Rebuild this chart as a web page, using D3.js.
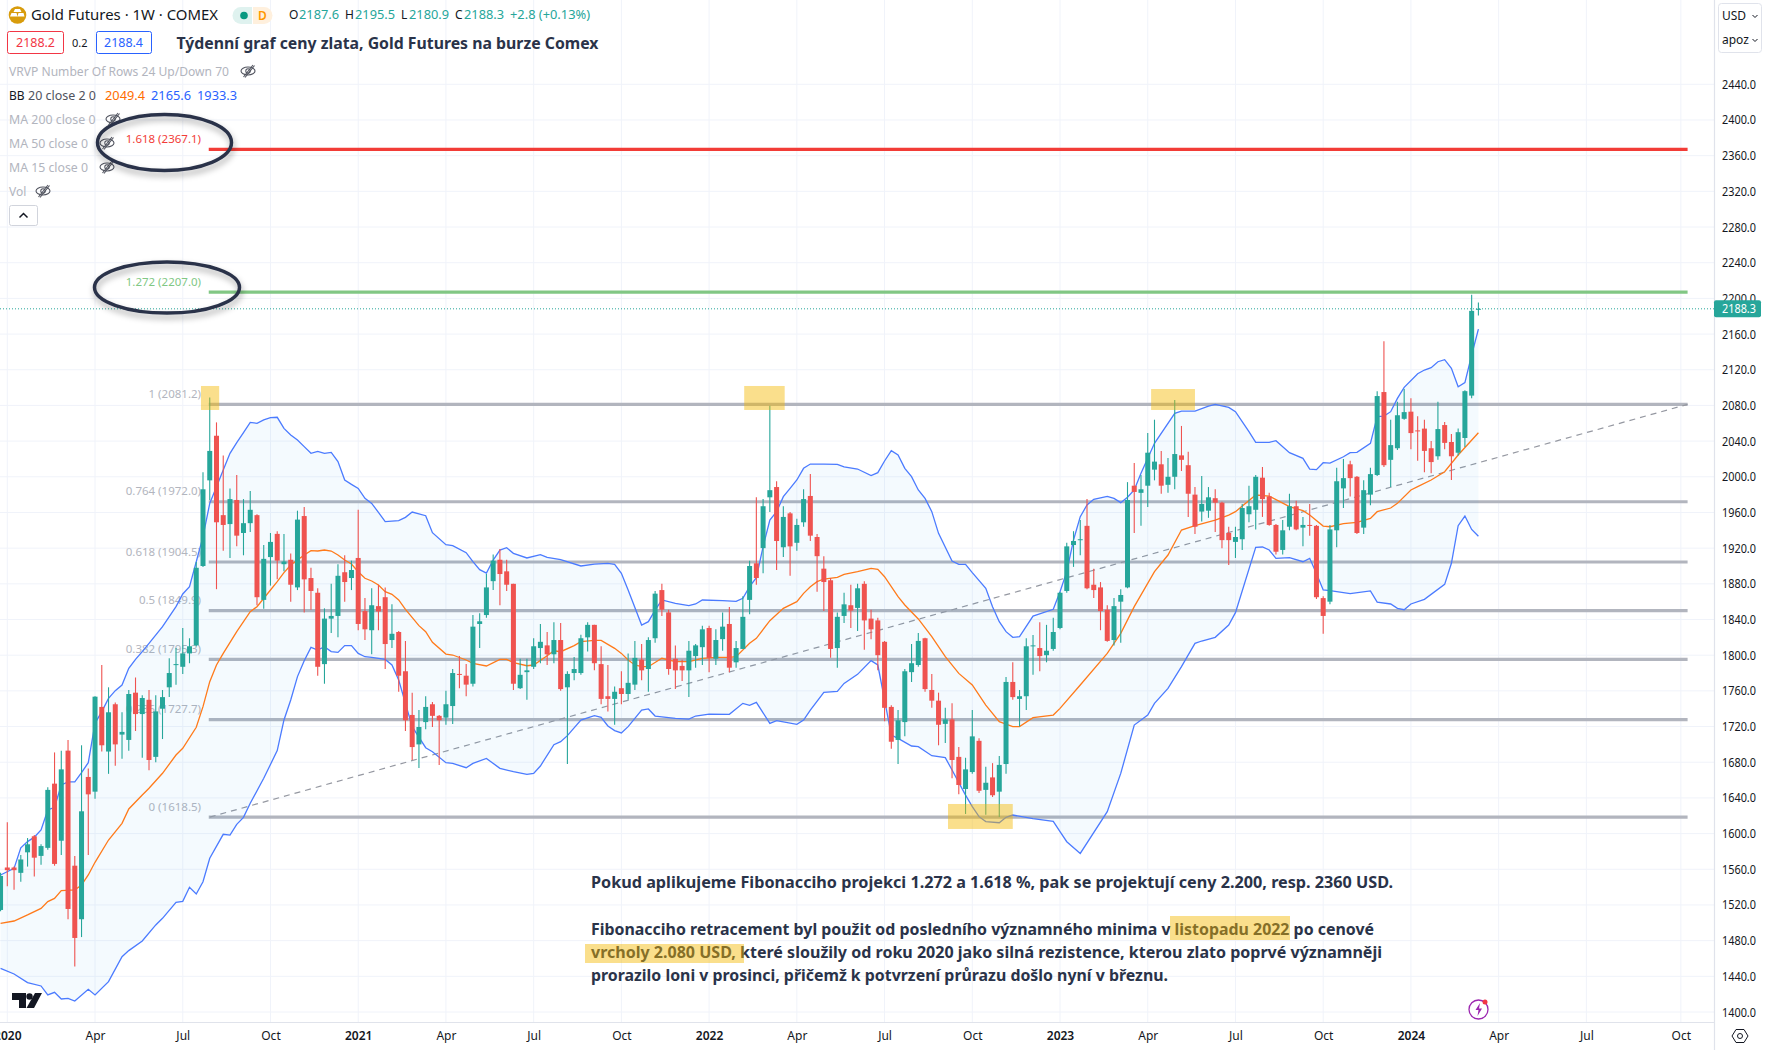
<!DOCTYPE html>
<html>
<head>
<meta charset="utf-8">
<title>Gold Futures 1W</title>
<script src="https://cdnjs.cloudflare.com/ajax/libs/d3/7.8.5/d3.min.js"></script>
<style>
    body { margin: 0; background: #fff; }
    svg { display: block; font-family: "Noto Sans", sans-serif; }
</style>
</head>
<body>
<script>
const dimensions = { width: 1767, height: 1050 }

// weekly candles, first one is the week of 30 Dec 2019 (week -1), week 0 = 6 Jan 2020
const opens = [1514.4,1562,1562,1556,1579,1597,1575,1584,1656,1592,1693,1564,1504,1663.5,1647,1742,1692,1745,1711,1705,1758,1734,1750,1686,1740,1764,1789,1787,1802,1811,1900,1996,2046,1957,1947,1974,1937,1948,1957,1862,1910,1936,1902,1907,1876,1956,1886.5,1870,1790,1841,1844,1893,1886.5,
    1909,1849.5,1828,1855,1865,1817,1826,1782,1733,1700,1725,1745,1732,1730,1743,1779,1777,1768,1835,1845,1883,1907,1894,1880,1763,1781,1787,1808,1811,1801,1817,1764,1780,1780,1820,1834,1790,1754,1751,1763,1756.5,1767,1795,1784.5,1819,1873,1848,1796,1788,1783,1799,1809,
    1830.5,1796,1818,1835,1792,1807,1862,1903,1920,1977,1988.5,1921,1959,1926,1949,1978.5,1932.5,1897,1884,1808,1844,1856,1853,1880,1841,1839,1815,1742,1705,1725,1781,1789,1819,1761,1749,1723,1728,1686,1650,1669,1704,1649,1663,1647,1678,1770,1751,1754,1810,1808,1800,1807,
    1830.5,1872,1923.5,1929,1945,1879,1876,1851,1817,1860,1876,1990,1982,1990,2008,2014,1991,2000,2024,2013,1980,1961,1962,
    1976,1971,1937,1927,1930,1958,1963,1999,1978,1946,1918,1944,1967,1943,1946,1945,1864,1860,1940,1987,2014,2000,1943,1980,2002,2095,2019,2032,2065,2073,2052,2054,2032,2023,2058,2039,2027,2043.5,2091,2187.6]
const highs = [1556,1612.7,1563,1576,1595,1598.5,1588,1652,1691,1693,1705,1575,1699,1673,1754,1789,1764,1747,1736,1761,1775,1755,1761,1755,1761,1796.5,1808,1830.5,1819,1904.5,2005,2089,2061,2024,1987,2002,1975,1984,1958,1923.5,1937,1939,1936,1914,1962,1966,1898,1875,1852.5,1880,1902,1912,1906,
    1963,1864,1875,1879,1876,1857,1827,1816,1758,1738.5,1754,1747.5,1733,1760,1784.5,1799,1790,1845,1847,1891,1913,1919,1907,1880,1796,1796,1819,1835,1826,1837,1836,1782,1798,1823,1837,1834,1810,1789,1765,1782,1802,1816,1812.5,1820,1872,1880,1851,1811,1795,1816,1812.5,1833,
    1833,1829,1848,1854,1816,1866,1906,1977,1975,2079.5,1995,1967,1960.5,1953,1986,2003,1936,1911,1886.5,1848,1870,1879,1880,1883,1851,1842,1816,1744,1738.5,1784.5,1812.5,1825,1819.5,1779,1758,1741,1746,1697,1685,1738.5,1707,1675,1679,1687,1775.5,1792,1761,1819,1822.5,1837,1834,1842,
    1871,1926,1939,1951.5,1975,1897,1882,1856,1864,1874,1994,2015.5,2002,2049,2064,2029,2021,2086,2057,2028,1988.5,2001,1988.5,
    1986,1972,1944,1944,1969.5,1990,2002,2011,1982,1947,1951.5,1981,1973,1955,1969.5,1946,1866,1946,2010,2020,2018,2001,1996,2010,2096,2152,2064,2084,2098.5,2088,2068,2064,2040,2084,2061.5,2048,2054,2097,2204,2195.5]
const lows = [1513,1541,1537,1546,1563,1552,1565,1582,1564,1576,1504,1451,1484,1576,1639,1692,1667,1676,1684,1693,1715,1685,1671,1680,1706,1753,1767,1779,1791,1810,1899,1974,1874,1917,1909,1922,1912,1938,1856,1852,1878,1885,1894,1860,1873,1848,1851,1777,1768,1825,1820,1860,1873,
    1828,1817,1801,1828,1784.5,1808,1759,1715,1682.5,1673.5,1717,1719.5,1677,1722,1723,1763,1754,1765,1808,1842,1873,1856,1872,1761,1762,1750,1784.5,1791,1789,1791,1760,1678,1772,1778,1804,1783,1745,1737,1722,1745,1750,1761,1772,1759,1814,1844,1778,1762,1771,1753,1786,1789,
    1781,1789,1805,1781,1786,1807,1846,1879,1892,1960.5,1895.5,1910,1889,1917,1944,1928,1871,1849.5,1797,1786,1836,1830.5,1827,1806,1818,1783,1726,1695,1678,1709,1770,1787,1759,1741,1699,1701.5,1662,1644,1622,1667,1645.5,1621,1641,1618.5,1667,1750,1720,1738.5,1778,1782,1792,1805,
    1829,1870,1899,1912,1874,1864,1828,1815,1811,1814,1875,1937,1945,1966,1996,1981,1982,1986,2006.5,1955,1936,1950,1954,
    1938,1920,1901,1909,1918,1949,1941,1955,1945,1913,1913,1940,1940,1922,1934,1863,1824,1857,1921,1965,1978,1936,1936,1968,2001,2011,1988.5,2030,2064,2031,2018,2005,2004,2019,2031,1996.5,2024,2033.5,2088,2180.9]
const closes = [1552.5,1559,1559,1571,1588,1573,1586,1649,1566,1672,1515.5,1483,1625,1644,1753.5,1699,1736,1700,1714,1756.5,1734,1752,1682.5,1737,1753,1780,1790,1802,1810,1898,1986,2029,1949,1946,1975,1934,1948,1963,1865,1908,1927,1906,1905,1879,1952,1885,1872,1787,1841,1844,1889,1882,1895.5,
    1835,1829,1856,1849,1812.5,1824,1777,1727,1697,1719.5,1742,1732,1727,1745,1780,1778,1767,1832,1838,1876,1906,1891,1879,1768,1778,1783,1810,1815,1801,1817,1762,1779,1784.5,1819,1834,1791,1751,1751,1759,1756.5,1769,1797,1783,1817,1869,1851,1784.5,1783,1783,1805,1811,1829,
    1797,1817,1832,1786,1808,1843,1900,1886.5,1967,1985,1928,1955,1922,1946,1975,1934,1911,1882,1807,1843,1857,1850,1875,1839,1829,1800,1741,1703,1727,1782,1791,1816,1762,1749,1722,1728,1682.5,1654.5,1672,1709,1648,1657,1643,1677,1770,1753,1754,1810,1811,1799,1805,1826,
    1870,1922,1928,1930,1875,1873,1849.5,1816,1855,1867.5,1974,1983,1986,2027,2017,1990,2000,2025.5,2019,1981,1944,1969.5,1977,
    1971,1929,1929,1932.5,1965,1967,2000,1975,1946,1916,1940,1967,1941,1946,1945,1865,1844,1941,1995,1998.5,1998.5,1937,1985,2003,2090.5,2013,2035.5,2069,2072.5,2049,2051,2029,2016.5,2053.5,2038,2023,2050,2096,2186,2188.3]

// bollinger bands as [week, price], read at the points where the lines bend
const bbUpper = [[-1,1553.6],[1,1561],[2,1584],[3,1591],[4,1596],[5,1604],[6,1626.5],[7,1629.5],[8,1654.5],[9,1658],[10,1658],[11,1668.3],[12,1679.5],[13,1723.6],[14,1736.7],[15,1751.6],[16,1760.2],[17,1766.6],[18,1785.3],[19,1795.3],[20,1804],[21,1813.3],[23,1832],[25,1854.4],[26,1868.6],[27,1876.8],[28,1904.8],[29,1932.9],[30,1970.2],[31,1988.9],[32,2007.6],[33,2026.3],[34,2038.3],[35,2049.5],[36,2061],[37,2059.9],[38,2063.7],[39,2066.3],[40,2066.7],[41,2054.3],[42,2046.9],[43,2041.2],[44,2033.8],[45,2026.3],[46,2028.5],[47,2026.3],[48,2027.4],[49,2017],[50,1996.4],[51,1991.5],[52,1987],[53,1975.8],[54,1970.2],[55,1960.1],[56,1949.7],[58,1950.8],[59,1954.5],[60,1960.5],[62,1956.4],[63,1937.3],[65,1923.9],[66,1922.8],[68,1914.9],[69,1904.8],[70,1895.9],[71,1892.1],[72,1906.7],[73,1917.9],[74,1920.5],[75,1914.2],[77,1909],[79,1912.7],[80,1909.7],[82,1907.1],[85,1900],[87,1902.2],[89,1903],[90,1901.8],[91,1891.8],[92,1873.1],[94,1833.8],[95,1837.6],[96,1850.6],[97,1861.9],[99,1858.1],[101,1855.5],[102,1857.4],[103,1861.9],[106,1861.1],[108,1860.4],[109,1863.8],[110,1876.8],[111,1886.9],[112,1921.7],[113,1951.5],[114,1960.9],[115,1977.7],[116,1987.1],[117,1996.4],[118,2009.5],[119,2014.3],[121,2014.3],[123,2014],[124,2011],[126,2008.7],[128,2001.3],[129,2004.6],[130,2017.7],[131,2029.3],[132,2024.4],[133,2009.5],[134,2000.1],[135,1985.2],[136,1975.8],[137,1960.9],[138,1936.6],[140,1905.6],[141,1901.8],[142,1901.8],[143,1892.5],[145,1874.9],[146,1854.4],[147,1837.6],[148,1826.4],[149,1820],[150,1820.8],[152,1843.9],[155,1851.4],[156,1871.2],[157,1893.6],[158,1929.1],[159,1955.3],[160,1968.4],[161,1974.7],[163,1978.1],[164,1975.8],[165,1971],[166,1977],[167,1985.2],[168,2003.9],[170,2037.5],[173,2071.1],[174,2073.7],[176,2073.7],[178,2079.3],[179,2081.2],[181,2077.8],[182,2073],[184,2050.6],[185,2038.6],[187,2038.6],[188,2040.5],[190,2027],[192,2020.7],[193,2008.7],[194,2008],[195,2015.8],[196,2015.4],[198,2022.5],[199,2027],[200,2027.4],[202,2037.5],[203,2067.4],[204,2068.1],[205,2073],[206,2087.9],[207,2100.3],[209,2115.6],[210,2119.7],[211,2122.3],[212,2129],[213,2131.3],[214,2121.6],[215,2101],[216,2105.5],[217,2136.5],[218,2165.6]]
const bbLower = [[-1,1449],[1,1442.6],[3,1432.9],[5,1429.2],[6,1419.1],[7,1422.1],[8,1414.6],[9,1415.3],[10,1412.3],[12,1425.4],[13,1419.1],[15,1434],[17,1462],[18,1468.8],[20,1479.6],[22,1497.6],[23,1505],[25,1523],[26,1524.1],[27,1539.8],[28,1532.3],[29,1546],[30,1572.3],[32,1599.2],[33,1598.4],[34,1610.4],[35,1618.2],[36,1634],[38,1662],[40,1693],[41,1727.4],[42,1749.8],[43,1776],[44,1793.8],[45,1808.8],[46,1805.8],[47,1809.5],[48,1804],[49,1803.2],[50,1810.7],[51,1810.7],[52,1802],[53,1798.3],[54,1797.6],[56,1795.3],[57,1789],[58,1772.2],[59,1746],[60,1719.9],[62,1696.3],[63,1691.8],[65,1679.5],[66,1678.7],[68,1673.9],[69,1678.7],[71,1684.3],[73,1673.1],[75,1669.4],[77,1666.4],[78,1667.5],[79,1675.8],[81,1699.7],[82,1703],[83,1709.8],[85,1727.3],[87,1732.2],[88,1730.3],[89,1720.6],[90,1715.4],[91,1712.8],[92,1719.9],[94,1738.5],[95,1739.7],[96,1731.8],[99,1729.2],[101,1728.4],[102,1731.8],[104,1734],[107,1733.7],[109,1746],[110,1743.8],[111,1747.1],[113,1723.6],[114,1726.6],[117,1722.5],[118,1727.3],[119,1738.5],[121,1758.3],[123,1759.5],[124,1768.4],[126,1778.5],[128,1793.9],[129,1789],[130,1749.8],[131,1710.5],[132,1706.8],[134,1698.2],[135,1697.4],[137,1687.3],[139,1685.1],[140,1671.3],[142,1643.2],[143,1630.2],[144,1619],[145,1613.4],[147,1612.2],[148,1618.2],[149,1620.8],[152,1616.7],[155,1613.7],[156,1602.1],[157,1590.9],[159,1577.8],[163,1624.6],[165,1667.5],[167,1721.7],[169,1732.9],[170,1746],[172,1762.8],[174,1787.1],[176,1813.3],[177,1815.9],[179,1820],[181,1833.8],[182,1847.7],[185,1920.9],[186,1921.3],[187,1917.9],[188,1908.6],[190,1909.3],[192,1904.8],[193,1908.6],[194,1891.7],[195,1873.1],[196,1872.3],[199,1869],[202,1872],[203,1859.6],[205,1857.4],[206,1852.5],[207,1851],[208,1857.4],[210,1862.6],[213,1879.4],[214,1903],[215,1945.2],[216,1956],[217,1941],[218,1933.3]]
const bbBasis = [[-1,1499.4],[1,1502],[3,1508.8],[5,1516.2],[6,1523.7],[7,1527.4],[8,1536],[10,1536.8],[11,1542.4],[12,1553.6],[13,1567.8],[15,1592.8],[17,1611.5],[18,1627.6],[20,1643.3],[21,1650.8],[23,1667.6],[25,1688.1],[26,1695.6],[28,1719.2],[29,1742.3],[30,1770.3],[31,1789],[32,1802],[34,1826.4],[36,1848.8],[37,1854.4],[39,1873.1],[40,1882.4],[41,1892.5],[42,1901.1],[43,1906.7],[44,1912.3],[45,1917.2],[46,1916.8],[47,1917.9],[48,1916.8],[49,1912.3],[50,1906.7],[51,1902.2],[52,1893.6],[53,1886.2],[54,1883.2],[55,1878.7],[56,1871.2],[57,1868.2],[58,1861.9],[59,1851.4],[61,1833.1],[62,1826.4],[63,1814.4],[65,1801.3],[66,1800.2],[68,1794.6],[69,1790.9],[71,1787.9],[73,1795.3],[74,1795.3],[75,1791.6],[77,1788.2],[78,1789],[80,1799.4],[81,1805],[82,1803.9],[84,1810.7],[85,1815.1],[87,1816.6],[88,1816.6],[90,1807.7],[91,1802],[92,1794.6],[93,1789],[94,1787.1],[95,1787.1],[97,1796.5],[99,1792.7],[101,1792.7],[103,1796.5],[105,1797.6],[107,1797.6],[108,1798.3],[110,1813.3],[111,1818.9],[113,1838.7],[115,1852.5],[117,1860],[118,1869.3],[119,1876.8],[120,1882.4],[121,1885.4],[123,1887.3],[124,1890.6],[126,1893.6],[128,1897.4],[129,1896.2],[130,1888],[132,1865.6],[133,1856.3],[135,1840.6],[137,1820.8],[139,1798.3],[141,1779.6],[143,1766.6],[145,1744.1],[147,1725.5],[149,1719.9],[150,1719.9],[152,1730],[155,1732.9],[156,1740.4],[159,1766.6],[163,1802],[165,1824.5],[167,1854.4],[170,1893.6],[172,1912.3],[174,1940.3],[176,1945.2],[179,1951.5],[181,1957.1],[182,1960.9],[185,1979.6],[187,1978.4],[190,1966.5],[192,1962],[193,1957.1],[195,1944.8],[196,1944],[198,1947.4],[200,1948.9],[202,1953.4],[203,1960.9],[205,1965],[206,1970.2],[208,1985.2],[209,1988.9],[211,1996.4],[213,2005.7],[215,2024.4],[218,2049.4]]

// fibonacci tool
const fibRatios = ['0', '0.236', '0.382', '0.5', '0.618', '0.764', '1', '1.272', '1.618']
const fibPrices = [1618.5, 1727.7, 1795.3, 1849.9, 1904.5, 1972.0, 2081.2, 2207.0, 2367.1]
const fibStartWeek = 30
const fibEndWeek = 249

// axes
const priceTicks = d3.range(1400, 2441, 40)
const weekTicks = [0, 13, 26, 39, 52, 65, 78, 91, 104, 117, 130, 143, 156, 169, 182, 195, 208, 221, 234, 248]
const weekLabels = ['2020', 'Apr', 'Jul', 'Oct', '2021', 'Apr', 'Jul', 'Oct', '2022', 'Apr', 'Jul', 'Oct', '2023', 'Apr', 'Jul', 'Oct', '2024', 'Apr', 'Jul', 'Oct']
const lastPrice = 2188.3

// yellow highlights: [first week, last week, top price, bottom price]
const highlights = [[28.7, 31.4, 2101.8, 2074.9], [109.2, 115.2, 2101.8, 2074.9], [169.5, 176, 2098.4, 2074.9], [139.4, 149, 1633.2, 1605.2]]

const chartRight = 1714
const chartBottom = 1022

const x = d3.scaleLinear().domain([0, 218]).range([7.3, 1478.4])
const y = d3.scaleLinear().domain([2440, 1400]).range([84.3, 1012])

const green = '#26a69a'
const red = '#ef5350'
const yellow = '#f5b800'

const candles = opens.map(function (o, i) {
    return { week: i - 1, open: o, high: highs[i], low: lows[i], close: closes[i] }
})

const svg = d3.select('body').append('svg')
    .attr('width', dimensions.width)
    .attr('height', dimensions.height)

const defs = svg.append('defs')
const shadow = defs.append('filter').attr('id', 'shadow')
    .attr('x', '-20%').attr('y', '-30%').attr('width', '140%').attr('height', '170%')
shadow.append('feDropShadow')
    .attr('dx', 1).attr('dy', 4).attr('stdDeviation', 3)
    .attr('flood-color', '#000').attr('flood-opacity', 0.35)

svg.append('clipPath').attr('id', 'plot').append('rect')
    .attr('width', chartRight).attr('height', chartBottom)

// grid
const grid = svg.append('g')
grid.selectAll('.hgrid')
    .data(priceTicks)
    .enter()
    .append('line')
    .attr('x1', 0).attr('x2', chartRight)
    .attr('y1', d => y(d)).attr('y2', d => y(d))
    .attr('stroke', '#f0f3fa')
grid.selectAll('.vgrid')
    .data(weekTicks)
    .enter()
    .append('line')
    .attr('x1', d => x(d)).attr('x2', d => x(d))
    .attr('y1', 0).attr('y2', chartBottom)
    .attr('stroke', '#f0f3fa')

const plot = svg.append('g').attr('clip-path', 'url(#plot)')

// fib levels sit behind the candles
const fibColor = function (i) {
    if (i == 8) return '#f23c37'
    if (i == 7) return '#81c784'
    return '#b2b5be'
}

plot.selectAll('.fib')
    .data(fibPrices)
    .enter()
    .append('line')
    .attr('x1', x(fibStartWeek) - 1).attr('x2', x(fibEndWeek))
    .attr('y1', d => y(d)).attr('y2', d => y(d))
    .attr('stroke', (d, i) => fibColor(i))
    .attr('stroke-width', 3.2)

plot.selectAll('.fibLabel')
    .data(fibPrices)
    .enter()
    .append('text')
    .attr('x', 201)
    .attr('y', d => y(d) - 10.5)
    .attr('dy', '0.35em')
    .attr('text-anchor', 'end')
    .attr('font-size', 11.5)
    .attr('fill', (d, i) => fibColor(i))
    .text((d, i) => fibRatios[i] + ' (' + d.toFixed(1) + ')')

plot.append('line')
    .attr('x1', x(fibStartWeek)).attr('x2', x(fibEndWeek))
    .attr('y1', y(fibPrices[0])).attr('y2', y(fibPrices[6]))
    .attr('stroke', '#9598a1')
    .attr('stroke-width', 1.2)
    .attr('stroke-dasharray', '6,5')

// bollinger bands
const bandLine = d3.line().x(d => x(d[0])).y(d => y(d[1]))

plot.append('path')
    .attr('d', bandLine(bbUpper) + 'L' + bandLine(bbLower.slice().reverse()).slice(1) + 'Z')
    .attr('fill', '#2196f3')
    .attr('fill-opacity', 0.05)

plot.selectAll('.band')
    .data([bbUpper, bbLower, bbBasis])
    .enter()
    .append('path')
    .attr('d', d => bandLine(d))
    .attr('fill', 'none')
    .attr('stroke', (d, i) => i == 2 ? '#ff7a1a' : '#4b7bff')
    .attr('stroke-width', 1.3)

// candles
plot.selectAll('.wick')
    .data(candles)
    .enter()
    .append('line')
    .attr('x1', d => x(d.week)).attr('x2', d => x(d.week))
    .attr('y1', d => y(d.high)).attr('y2', d => y(d.low))
    .attr('stroke', d => d.close >= d.open ? green : red)
    .attr('stroke-width', 1.1)

plot.selectAll('.body')
    .data(candles)
    .enter()
    .append('rect')
    .attr('x', d => x(d.week) - 2.5)
    .attr('width', 5)
    .attr('y', d => y(Math.max(d.open, d.close)))
    .attr('height', d => Math.max(1, Math.abs(y(d.open) - y(d.close))))
    .attr('fill', d => d.close >= d.open ? green : red)

plot.append('line')
    .attr('x1', 0).attr('x2', chartRight)
    .attr('y1', y(lastPrice)).attr('y2', y(lastPrice))
    .attr('stroke', green)
    .attr('stroke-dasharray', '1,2')

// price axis
svg.append('line')
    .attr('x1', chartRight + 0.5).attr('x2', chartRight + 0.5)
    .attr('y1', 0).attr('y2', dimensions.height)
    .attr('stroke', '#e0e3eb').attr('stroke-width', 1.2)

const priceAxis = svg.append('g')
    .attr('transform', 'translate(' + chartRight + ',0)')
    .call(d3.axisRight(y).tickValues(priceTicks).tickFormat(d3.format('.1f')).tickSize(0).tickPadding(8))
priceAxis.select('.domain').remove()
priceAxis.selectAll('text')
    .attr('font-family', '"Noto Sans", sans-serif')
    .attr('font-size', 12.5)
    .attr('textLength', 34)
    .attr('lengthAdjust', 'spacingAndGlyphs')
    .attr('fill', '#131722')

svg.append('rect')
    .attr('x', chartRight).attr('y', y(lastPrice) - 8.6)
    .attr('width', 47).attr('height', 17)
    .attr('rx', 2)
    .attr('fill', green)
svg.append('text')
    .attr('x', 1722).attr('y', y(lastPrice))
    .attr('dy', '0.35em')
    .attr('font-size', 12.5)
    .attr('textLength', 34)
    .attr('lengthAdjust', 'spacingAndGlyphs')
    .attr('fill', '#fff')
    .text(lastPrice.toFixed(1))

// time axis
svg.append('line')
    .attr('x1', 0).attr('x2', chartRight)
    .attr('y1', chartBottom + 0.5).attr('y2', chartBottom + 0.5)
    .attr('stroke', '#e0e3eb').attr('stroke-width', 1.2)

const timeAxis = svg.append('g')
    .attr('transform', 'translate(0,' + chartBottom + ')')
    .call(d3.axisBottom(x).tickValues(weekTicks).tickFormat((d, i) => weekLabels[i]).tickSize(0).tickPadding(9))
timeAxis.select('.domain').remove()
timeAxis.selectAll('text')
    .attr('font-family', '"Noto Sans", sans-serif')
    .attr('font-size', 12)
    .attr('font-weight', (d, i) => weekLabels[i].length == 4 ? 600 : 400)
    .attr('fill', '#131722')

// helper for the header and note texts
function addText(px, py, str, size, color, weight, width) {
    const t = svg.append('text')
        .attr('x', px).attr('y', py)
        .attr('dy', '0.35em')
        .attr('font-size', size)
        .attr('fill', color)
        .attr('font-weight', weight || 400)
        .text(str)
    if (width) t.attr('textLength', width).attr('lengthAdjust', 'spacingAndGlyphs')
    return t
}

function addEye(px, py) {
    const g = svg.append('g')
        .attr('transform', 'translate(' + px + ',' + py + ')')
        .attr('fill', 'none').attr('stroke', '#50535e').attr('stroke-width', 1.1)
    g.append('ellipse').attr('rx', 7).attr('ry', 4)
    g.append('circle').attr('r', 2.2)
    g.append('line').attr('x1', -4.5).attr('y1', 6).attr('x2', 5).attr('y2', -6)
    g.append('line').attr('x1', -3).attr('y1', 6.5).attr('x2', 6.5).attr('y2', -5.5)
}

// symbol header
svg.append('circle').attr('cx', 17.5).attr('cy', 15).attr('r', 8.8).attr('fill', '#d89c0c')
svg.append('path').attr('d', 'M15 9h5l1.5 3h-8zM11.5 13h5l1 3.5h-7.5zM18.5 13h5l1 3.5h-7z').attr('fill', '#fff')
addText(31, 15, 'Gold Futures · 1W · COMEX', 14, '#131722', 400, 187)

svg.append('path').attr('d', 'M241 7h11v17h-11a8.5 8.5 0 0 1 0-17z').attr('fill', '#dff2ef')
svg.append('path').attr('d', 'M253 7h11a8.5 8.5 0 0 1 0 17h-11z').attr('fill', '#fff0dd')
svg.append('circle').attr('cx', 244).attr('cy', 15.5).attr('r', 3.8).attr('fill', '#089981')
addText(258, 15.5, 'D', 12, '#ff9800', 600)

addText(289, 15, 'O', 12, '#131722')
addText(299, 15, '2187.6', 12, green, 400, 40)
addText(345, 15, 'H', 12, '#131722')
addText(355, 15, '2195.5', 12, green, 400, 40)
addText(401, 15, 'L', 12, '#131722')
addText(409, 15, '2180.9', 12, green, 400, 40)
addText(455, 15, 'C', 12, '#131722')
addText(464, 15, '2188.3', 12, green, 400, 40)
addText(510, 15, '+2.8 (+0.13%)', 12, green, 400, 80)

svg.append('rect').attr('x', 7.5).attr('y', 31.5).attr('width', 56).attr('height', 22)
    .attr('rx', 2).attr('fill', '#fff').attr('stroke', '#f23645')
addText(16, 43, '2188.2', 12, '#f23645', 400, 39)
addText(72, 43, '0.2', 11, '#131722')
svg.append('rect').attr('x', 96.5).attr('y', 31.5).attr('width', 55).attr('height', 22)
    .attr('rx', 2).attr('fill', '#fff').attr('stroke', '#2962ff')
addText(104, 43, '2188.4', 12, '#2962ff', 400, 39)

addText(176.5, 44, 'Týdenní graf ceny zlata, Gold Futures na burze Comex', 15.5, '#2a3349', 700, 422)

// indicator legend
addText(9, 71.5, 'VRVP Number Of Rows 24 Up/Down 70', 12, '#b2b5be', 400, 220)
addEye(248, 71)
addText(9, 95.5, 'BB', 12, '#131722')
addText(28, 95.5, '20 close 2 0', 12, '#50535e', 400, 68)
addText(105, 95.5, '2049.4', 12, '#ff6d00', 400, 40)
addText(151, 95.5, '2165.6', 12, '#2962ff', 400, 40)
addText(197, 95.5, '1933.3', 12, '#2962ff', 400, 40)
addText(9, 119.5, 'MA 200 close 0', 12, '#b2b5be', 400, 86.5)
addEye(113, 119)
addText(9, 143.5, 'MA 50 close 0', 12, '#b2b5be', 400, 79)
addEye(107, 143)
addText(9, 167.5, 'MA 15 close 0', 12, '#b2b5be', 400, 79)
addEye(107, 167)
addText(9, 191.5, 'Vol', 12, '#b2b5be')
addEye(43, 191)
svg.append('rect').attr('x', 9.5).attr('y', 205.5).attr('width', 28).attr('height', 20)
    .attr('rx', 2).attr('fill', '#fff').attr('stroke', '#d1d4dc')
svg.append('path').attr('d', 'M19.5 217.5l4-4l4 4').attr('fill', 'none').attr('stroke', '#131722').attr('stroke-width', 1.5)

// currency box
svg.append('rect').attr('x', 1718.5).attr('y', 3.5).attr('width', 43).attr('height', 49)
    .attr('rx', 3).attr('fill', '#fff').attr('stroke', '#e0e3eb')
addText(1722, 16, 'USD', 12, '#131722')
svg.append('path').attr('d', 'M1752.5 15l2.5 2.5l2.5-2.5').attr('fill', 'none').attr('stroke', '#131722')
addText(1722, 40, 'apoz', 12, '#131722')
svg.append('path').attr('d', 'M1752.5 39l2.5 2.5l2.5-2.5').attr('fill', 'none').attr('stroke', '#131722')

// settings icon
svg.append('path').attr('d', 'M1736 1029.5h8l4 6.5l-4 6.5h-8l-4-6.5z').attr('fill', 'none').attr('stroke', '#131722')
svg.append('circle').attr('cx', 1740).attr('cy', 1036).attr('r', 2.5).attr('fill', 'none').attr('stroke', '#131722')

// tradingview mark
svg.append('path').attr('d', 'M12 993h14v15h-7v-8h-7z').attr('fill', '#131722')
svg.append('circle').attr('cx', 29.5).attr('cy', 996.5).attr('r', 3.2).attr('fill', '#131722')
svg.append('path').attr('d', 'M35 993h7l-8 15h-7.5z').attr('fill', '#131722')

// lightning badge
svg.append('circle').attr('cx', 1478.5).attr('cy', 1009.5).attr('r', 9.5)
    .attr('fill', '#fff').attr('stroke', '#9c27b0').attr('stroke-width', 1.3)
svg.append('path').attr('d', 'M1480 1003l-4.5 7h3l-1 6l4.5-7.5h-3z').attr('fill', '#9c27b0')
svg.append('circle').attr('cx', 1485).attr('cy', 1002).attr('r', 2.5).attr('fill', '#f23645')

// note
addText(591, 883, 'Pokud aplikujeme Fibonacciho projekci 1.272 a 1.618 %, pak se projektují ceny 2.200, resp. 2360 USD.', 15.5, '#2a3349', 700, 802)
addText(591, 930, 'Fibonacciho retracement byl použit od posledního významného minima v listopadu 2022 po cenové', 15.5, '#2a3349', 700, 783)
addText(591, 953, 'vrcholy 2.080 USD, které sloužily od roku 2020 jako silná rezistence, kterou zlato poprvé významněji', 15.5, '#2a3349', 700, 791)
addText(591, 976, 'prorazilo loni v prosinci, přičemž k potvrzení průrazu došlo nyní v březnu.', 15.5, '#2a3349', 700, 577)

svg.append('rect').attr('x', 1170).attr('y', 916).attr('width', 120).attr('height', 24)
    .attr('fill', yellow).attr('fill-opacity', 0.45)
svg.append('rect').attr('x', 585).attr('y', 944).attr('width', 159).attr('height', 19)
    .attr('fill', yellow).attr('fill-opacity', 0.45)

// yellow boxes over the tops and the low
svg.selectAll('.highlight')
    .data(highlights)
    .enter()
    .append('rect')
    .attr('x', d => x(d[0]))
    .attr('y', d => y(d[2]))
    .attr('width', d => x(d[1]) - x(d[0]))
    .attr('height', d => y(d[3]) - y(d[2]))
    .attr('fill', yellow)
    .attr('fill-opacity', 0.45)

// hand drawn circles around the two projections
svg.append('ellipse')
    .attr('cx', 164.5).attr('cy', 142.5).attr('rx', 67).attr('ry', 28)
    .attr('fill', 'none').attr('stroke', '#2a3349').attr('stroke-width', 3.5)
    .attr('filter', 'url(#shadow)')
svg.append('ellipse')
    .attr('cx', 167).attr('cy', 287.5).attr('rx', 72.5).attr('ry', 25.5)
    .attr('fill', 'none').attr('stroke', '#2a3349').attr('stroke-width', 3.5)
    .attr('filter', 'url(#shadow)')
</script>
</body>
</html>
